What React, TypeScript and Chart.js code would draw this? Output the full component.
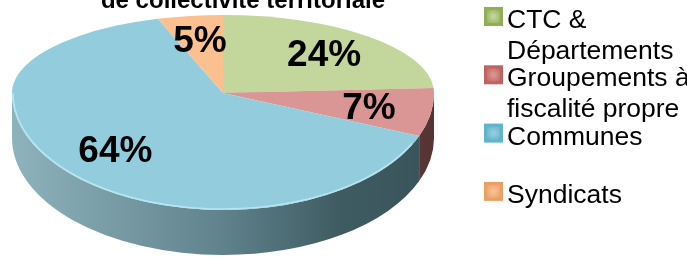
import React, { useEffect, useRef } from 'react';
import { Chart, registerables } from 'chart.js';

Chart.register(...registerables);

// ---- data ----
const categories = ['CTC & Départements', 'Groupements à fiscalité propre', 'Communes', 'Syndicats'];
const shares = [24, 7, 64, 5];
const topColors = ['#c3d69b', '#d99694', '#93cddd', '#fac090'];
const sideColors = [
  ['#a2b878', '#8fa468', '#5f7043', '#56663c'],
  ['#a97472', '#8a5856', '#5e3a39', '#553433'],
  ['#8fb3bd', '#5f828c', '#3f5b62', '#3a535a'],
  ['#c8996f', '#a87a52', '#7a5636', '#6e4d30'],
];
const markerColors = ['#8fae55', '#c06360', '#5fb3cb', '#e9a066'];
const titleLine = 'de collectivité territoriale';

// ---- geometry / style ----
const W = 687;
const H = 258;
const RX = 211;
const RY_TOP = 78;
const RY_BOTTOM = 117;
const DEPTH = 45;
const LABEL_FACTOR = 0.7;
const FONT = '"Liberation Sans", Arial, Helvetica, sans-serif';

function wrap(ctx: CanvasRenderingContext2D, text: string, maxW: number, sx: number): string[] {
  const words = text.split(' ');
  const lines: string[] = [];
  let cur = '';
  for (const w of words) {
    const test = cur ? cur + ' ' + w : w;
    if (ctx.measureText(test).width * sx > maxW && cur) {
      lines.push(cur);
      cur = w;
    } else cur = test;
  }
  if (cur) lines.push(cur);
  return lines;
}

const pie3d = {
  id: 'pie3d',
  beforeDatasetsDraw(chart: any) {
    const ctx: CanvasRenderingContext2D = chart.ctx;
    const arcs: any[] = chart.getDatasetMeta(0).data;
    if (!arcs.length) return;
    const cx = arcs[0].x;
    const cy = arcs[0].y;
    const r = arcs[0].outerRadius;

    // side walls (front half only)
    arcs.forEach((arc, i) => {
      const s = arc.startAngle;
      const e = arc.endAngle;
      for (let k = 0; k <= 1; k++) {
        const a = Math.max(s, k * 2 * Math.PI);
        const b = Math.min(e, k * 2 * Math.PI + Math.PI);
        if (b <= a) continue;
        const g = ctx.createLinearGradient(cx - RX, 0, cx + RX, 0);
        g.addColorStop(0, sideColors[i][0]);
        g.addColorStop(0.5, sideColors[i][1]);
        g.addColorStop(0.78, sideColors[i][2]);
        g.addColorStop(1, sideColors[i][3]);
        ctx.save();
        ctx.beginPath();
        ctx.ellipse(cx, cy, RX, RY_BOTTOM, 0, a, b, false);
        ctx.ellipse(cx, cy + DEPTH, RX, RY_BOTTOM, 0, b, a, true);
        ctx.closePath();
        ctx.fillStyle = g;
        ctx.fill();
        ctx.restore();
      }
    });

    // top face: upper half and lower half with different vertical scale
    const halves = [
      { y0: 0, y1: cy + 0.5, ry: RY_TOP },
      { y0: cy - 0.5, y1: H, ry: RY_BOTTOM },
    ];
    halves.forEach((h) => {
      ctx.save();
      ctx.beginPath();
      ctx.rect(0, h.y0, W, h.y1 - h.y0);
      ctx.clip();
      ctx.translate(cx, cy);
      ctx.scale(RX / r, h.ry / r);
      ctx.translate(-cx, -cy);
      arcs.forEach((arc) => arc.draw(ctx));
      ctx.restore();
    });

    // light rim on the front edge
    ctx.save();
    ctx.beginPath();
    ctx.ellipse(cx, cy, RX - 1, RY_BOTTOM - 1, 0, 0.45, Math.PI, false);
    ctx.strokeStyle = 'rgba(200,240,250,0.7)';
    ctx.lineWidth = 1.5;
    ctx.stroke();
    ctx.restore();
    return false;
  },
  afterDraw(chart: any) {
    const ctx: CanvasRenderingContext2D = chart.ctx;
    const arcs: any[] = chart.getDatasetMeta(0).data;
    const values: number[] = chart.data.datasets[0].data;
    const labels: string[] = chart.data.labels;
    if (!arcs.length) return;
    const cx = arcs[0].x;
    const cy = arcs[0].y;

    // percent labels
    ctx.save();
    ctx.fillStyle = '#000';
    ctx.font = `bold 37px ${FONT}`;
    ctx.textAlign = 'center';
    ctx.textBaseline = 'middle';
    arcs.forEach((arc, i) => {
      const mid = (arc.startAngle + arc.endAngle) / 2;
      const sn = Math.sin(mid);
      const x = cx + RX * LABEL_FACTOR * Math.cos(mid);
      const y = cy + (sn < 0 ? RY_TOP : RY_BOTTOM) * LABEL_FACTOR * sn;
      ctx.fillText(values[i] + '%', x, y + 3);
    });
    ctx.restore();

    // title (partly cut by the top of the picture)
    ctx.save();
    ctx.fillStyle = '#000';
    ctx.font = `bold 24px ${FONT}`;
    ctx.textAlign = 'center';
    ctx.textBaseline = 'alphabetic';
    ctx.fillText(titleLine, 243, 8);
    ctx.restore();

    // legend
    const sx = 1.06;
    ctx.save();
    ctx.font = `25px ${FONT}`;
    ctx.fillStyle = '#000';
    ctx.textBaseline = 'alphabetic';
    ctx.textAlign = 'left';
    labels.forEach((lab, i) => {
      const base = 28 + 58.3 * i;
      // marker
      const mx = 484;
      const my = base - 21;
      const ms = 19;
      ctx.fillStyle = markerColors[i];
      ctx.fillRect(mx, my, ms, ms);
      const g = ctx.createRadialGradient(mx + ms / 2, my + ms / 2, 1, mx + ms / 2, my + ms / 2, ms / 2);
      g.addColorStop(0, topColors[i]);
      g.addColorStop(1, markerColors[i]);
      ctx.fillStyle = g;
      ctx.fillRect(mx + 3, my + 3, ms - 6, ms - 6);
      // text
      ctx.fillStyle = '#000';
      const lines = wrap(ctx, lab, 190, sx);
      lines.forEach((ln, j) => {
        ctx.save();
        ctx.translate(507, base + j * 30.5);
        ctx.scale(sx, 1);
        ctx.fillText(ln, 0, 0);
        ctx.restore();
      });
    });
    ctx.restore();
  },
};

export default function App() {
  const ref = useRef<HTMLCanvasElement | null>(null);
  useEffect(() => {
    if (!ref.current) return;
    const chart = new Chart(ref.current, {
      type: 'pie',
      data: {
        labels: categories,
        datasets: [
          {
            data: shares,
            backgroundColor: topColors,
            borderWidth: 0,
            clip: false as any,
          } as any,
        ],
      },
      options: {
        responsive: false,
        maintainAspectRatio: false,
        animation: false,
        devicePixelRatio: 1,
        events: [],
        layout: { padding: { left: 0, right: 241, top: 13, bottom: 85 } },
        plugins: {
          legend: { display: false },
          tooltip: { enabled: false },
          title: { display: false },
        },
      },
      plugins: [pie3d as any],
    });
    return () => chart.destroy();
  }, []);
  return (
    <div style={{ position: 'fixed', left: 0, top: 0, width: W, height: H, background: '#fff' }}>
      <canvas ref={ref} width={W} height={H} style={{ display: 'block', width: W, height: H }} />
    </div>
  );
}
